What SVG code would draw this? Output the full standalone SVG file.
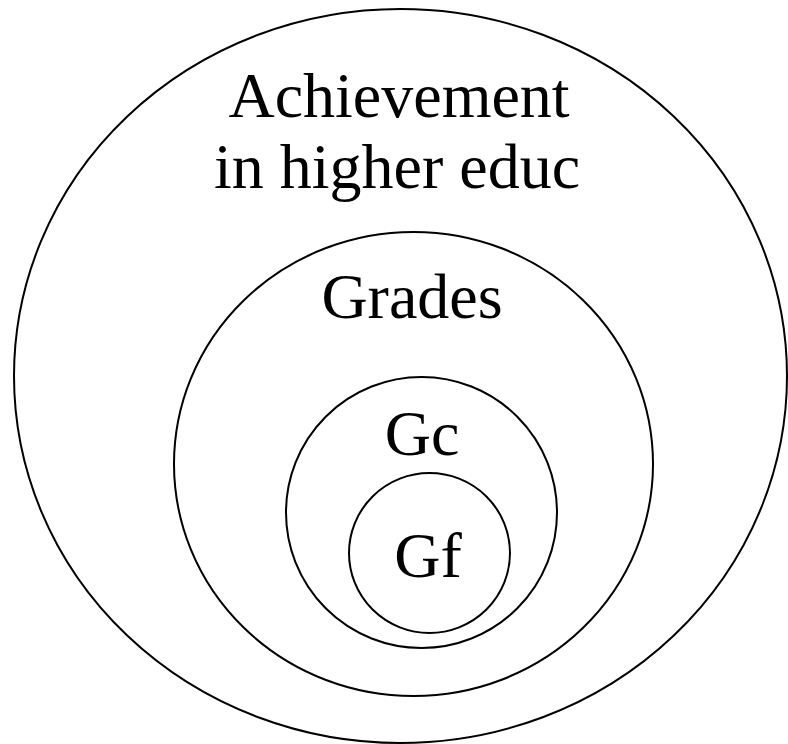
<svg xmlns="http://www.w3.org/2000/svg" width="788" height="744" viewBox="0 0 788 744">
<style>
.sh{fill:none;stroke:#000;stroke-width:2}
.t{font-family:"Liberation Serif","Times New Roman",serif;font-size:64px;fill:#000;text-anchor:middle}
</style>
<rect width="788" height="744" fill="#fff"/>
<g id="achievement">
<ellipse class="sh" cx="400.5" cy="376" rx="386.5" ry="367"/>
<text class="t" x="399" y="117">Achievement</text>
<text class="t" x="397" y="188">in higher educ</text>
</g>
<g id="grades">
<ellipse class="sh" cx="413.5" cy="464" rx="239.5" ry="232"/>
<text class="t" x="412" y="318">Grades</text>
</g>
<g id="gc">
<ellipse class="sh" cx="421.5" cy="512.5" rx="135.5" ry="135.5"/>
<text class="t" x="422" y="455">Gc</text>
</g>
<g id="gf">
<ellipse class="sh" cx="429.5" cy="553" rx="80.5" ry="80"/>
<text class="t" x="428" y="577">Gf</text>
</g>
<g id="connectors"/>
</svg>
